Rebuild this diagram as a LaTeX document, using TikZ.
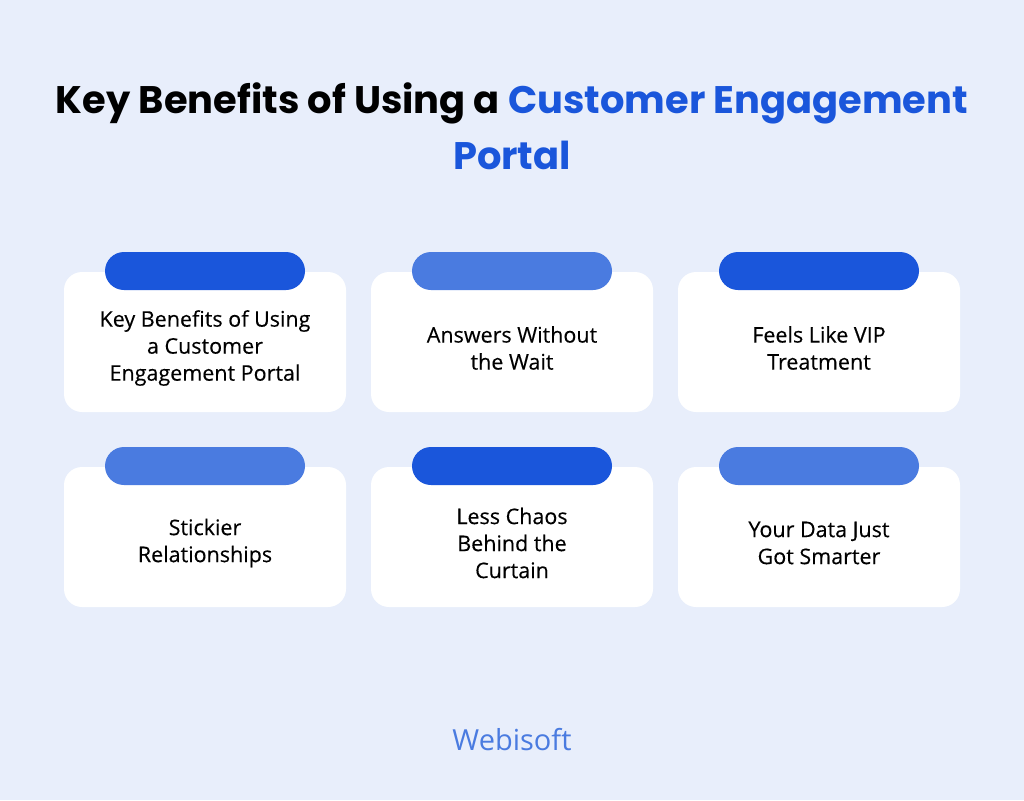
\documentclass[tikz,border=0pt]{standalone}
\usepackage{fontspec}
\setmainfont{Poppins}
\newfontfamily\bodyfont{Open Sans}
\definecolor{bg}{HTML}{E8EEFB}
\definecolor{dk}{HTML}{1A56DB}
\definecolor{lt}{HTML}{4A7BE0}
\begin{document}
\begin{tikzpicture}[x=1pt,y=-1pt,
  card/.style={fill=white,rounded corners=18pt,minimum width=282pt,minimum height=140pt,inner sep=0pt},
  pill/.style={rounded corners=19pt,minimum width=200pt,minimum height=38pt,inner sep=0pt},
  txt/.style={font=\bodyfont\fontsize{21.5}{27}\selectfont\addfontfeature{FakeBold=0.3},align=center,text=black}]
\fill[bg] (0,0) rectangle (1024,800);
\node (t1) at (512,103) {\fontsize{38.4}{40}\selectfont\bfseries Key Benefits of Using a \textcolor{dk}{Customer Engagement}};
\node (t2) at (512,155) {\fontsize{38.4}{40}\selectfont\bfseries\textcolor{dk}{Portal}};
\foreach \n/\cx/\cy/\c/\t in {
 a/205/342/dk/{Key Benefits of Using\\a Customer\\Engagement Portal},
 b/512/342/lt/{Answers Without\\the Wait},
 c/819/342/dk/{Feels Like VIP\\Treatment},
 d/205/537/lt/{Stickier\\Relationships},
 e/512/537/dk/{Less Chaos\\Behind the\\Curtain},
 f/819/537/lt/{Your Data Just\\Got Smarter}}{
  \node[card] (card\n) at (\cx,\cy) {};
  \node[pill,fill=\c] (pill\n) at (\cx,\cy-71) {};
  \node[txt] (text\n) at (\cx,\cy+6) {\t};
}
\node (logo) at (512,740) {\bodyfont\fontsize{29}{32}\selectfont\color{lt}Webisoft};
\end{tikzpicture}
\end{document}
